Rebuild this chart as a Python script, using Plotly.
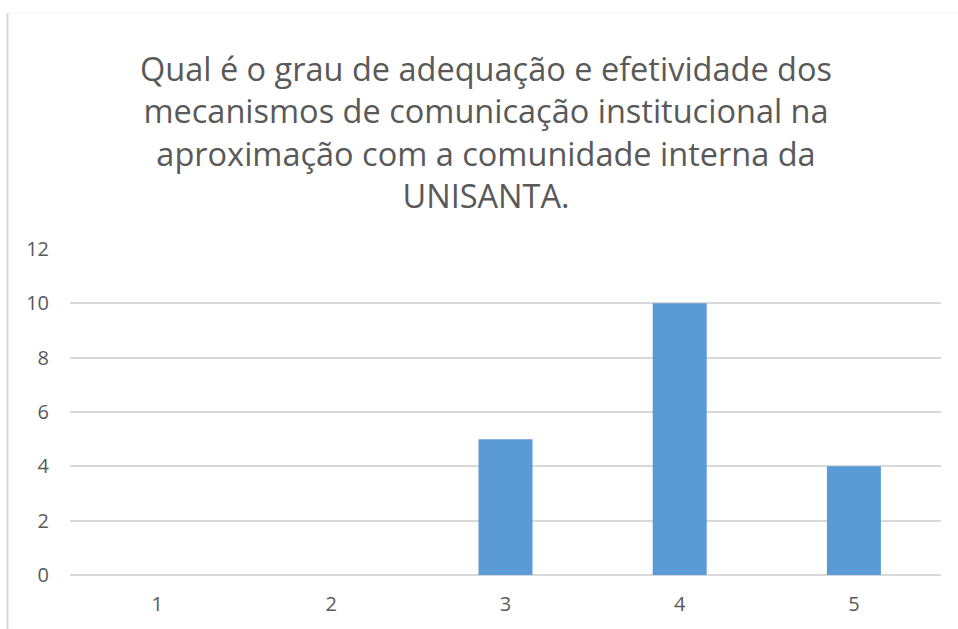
import plotly.graph_objects as go

# Survey responses: rating level -> number of answers
categories = ["1", "2", "3", "4", "5"]
counts = [0, 0, 5, 10, 4]
y_ticks = [0, 2, 4, 6, 8, 10, 12]

title_lines = [
    "Qual é o grau de adequação e efetividade dos",
    "mecanismos de comunicação institucional na",
    "aproximação com a comunidade interna da",
    "UNISANTA.",
]

BAR_COLOR = "#5B9BD5"
GRID_COLOR = "#D9D9D9"
TEXT_COLOR = "#595959"
FONT = "'Open Sans', Lato, sans-serif"

fig = go.Figure(
    go.Bar(
        x=categories,
        y=counts,
        marker=dict(color=BAR_COLOR, line=dict(width=0)),
        hoverinfo="x+y",
    )
)

fig.update_layout(
    width=958,
    height=629,
    margin=dict(l=70, r=17, t=249, b=54),
    paper_bgcolor="white",
    plot_bgcolor="white",
    bargap=0.69,
    showlegend=False,
    font=dict(family=FONT, color=TEXT_COLOR, size=20),
    annotations=[
        dict(
            text="<br>".join(title_lines),
            xref="paper",
            yref="paper",
            x=0.4776,
            y=1.0,
            yshift=117,
            xanchor="center",
            yanchor="middle",
            showarrow=False,
            align="center",
            font=dict(family=FONT, size=32.5, color=TEXT_COLOR),
        )
    ],
    shapes=[
        # left and top edges of the chart frame
        dict(
            type="line",
            xref="paper",
            yref="paper",
            x0=-0.0718,
            x1=-0.0718,
            y0=-0.2,
            y1=1.724,
            line=dict(color="#D9D9D9", width=2),
        ),
        dict(
            type="line",
            xref="paper",
            yref="paper",
            x0=-0.0718,
            x1=1.03,
            y0=1.724,
            y1=1.724,
            line=dict(color="#F4F4F4", width=1),
        ),
    ],
)

fig.update_xaxes(
    type="category",
    showgrid=False,
    showline=False,
    zeroline=False,
    ticks="",
    tickfont=dict(size=20, color=TEXT_COLOR),
    ticklabelstandoff=15,
)

fig.update_yaxes(
    range=[0, 12],
    tickvals=y_ticks,
    showgrid=True,
    gridcolor=GRID_COLOR,
    gridwidth=1.5,
    zeroline=True,
    zerolinecolor=GRID_COLOR,
    zerolinewidth=1.5,
    showline=False,
    ticks="",
    tickfont=dict(size=20, color=TEXT_COLOR),
    ticklabelstandoff=20,
)

fig.write_html("out.html")
